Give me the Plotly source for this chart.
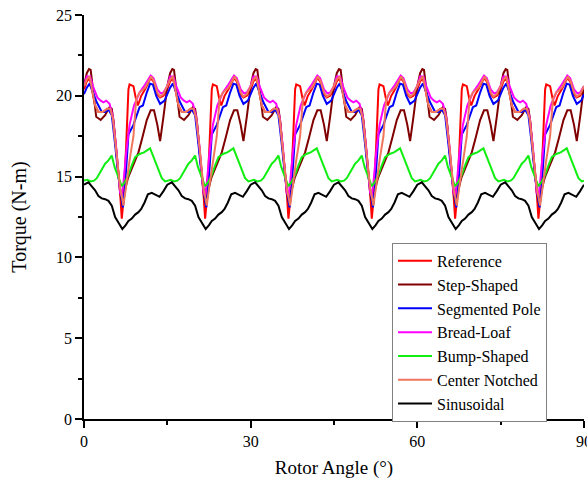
import plotly.graph_objects as go

# ---- Data (one 15-degree cogging period; repeated 6 times over 0-90 deg) ----
PERIOD = 15
N_PERIODS = 6

ref_x = [0.0, 0.5, 1.0, 1.5, 2.0, 2.6, 3.4, 4.2, 4.8, 5.3, 5.9, 6.4, 6.8, 7.1, 7.6, 8.0, 8.2, 8.9, 9.3, 9.7, 10.3, 11.0, 12.0, 12.5, 13.2, 13.7, 14.3]
ref_y = [20.4, 20.9, 21.1, 20.3, 19.4, 19.0, 19.0, 19.2, 19.2, 18.4, 16.5, 14.5, 12.4, 13.5, 17.0, 20.4, 20.7, 20.6, 19.9, 19.4, 20.0, 20.4, 21.1, 20.9, 20.1, 19.9, 20.0]

step_x = [0.0, 0.5, 0.9, 1.2, 1.7, 2.2, 3.0, 3.8, 4.6, 5.0, 5.3, 5.9, 6.5, 7.0, 7.4, 7.9, 8.5, 9.2, 9.8, 10.5, 11.3, 12.0, 12.6, 13.2, 13.7, 14.3]
step_y = [20.6, 21.4, 21.65, 21.6, 20.15, 18.7, 18.5, 18.8, 19.3, 19.2, 18.5, 16.2, 14.0, 13.2, 14.2, 14.9, 15.4, 16.0, 16.5, 17.4, 18.5, 19.1, 19.1, 18.2, 17.2, 18.7]

seg_x = [0.0, 0.5, 1.0, 1.5, 2.3, 3.2, 3.8, 4.4, 5.0, 5.6, 6.2, 7.0, 7.4, 8.0, 8.9, 10.0, 10.6, 11.3, 11.9, 12.4, 13.0, 13.7, 14.5]
seg_y = [20.1, 20.5, 20.75, 20.3, 19.6, 19.0, 19.0, 19.15, 18.8, 17.0, 15.0, 13.1, 14.5, 17.6, 18.2, 19.3, 19.4, 20.2, 20.75, 20.7, 20.0, 19.5, 19.7]

bread_x = [0.0, 0.5, 1.1, 1.6, 2.4, 3.0, 3.5, 4.0, 4.6, 5.2, 5.8, 6.5, 6.8, 7.1, 7.6, 8.2, 9.0, 10.0, 11.0, 12.0, 12.5, 13.2, 13.8, 14.3]
bread_y = [20.6, 21.2, 21.2, 20.6, 19.9, 19.7, 19.6, 19.7, 19.5, 18.7, 16.8, 14.0, 13.8, 14.6, 16.5, 18.2, 19.4, 20.2, 20.7, 21.25, 21.1, 20.4, 20.15, 20.2]

bump_x = [0.0, 0.6, 1.2, 1.8, 2.3, 3.0, 3.8, 4.4, 5.0, 5.5, 6.2, 6.8, 7.4, 8.0, 8.6, 9.2, 10.0, 10.8, 11.9, 12.5, 13.2, 14.0, 14.6]
bump_y = [14.75, 14.8, 14.7, 14.75, 14.9, 15.3, 15.8, 16.0, 16.3, 15.6, 14.9, 14.4, 14.7, 15.1, 15.7, 16.2, 16.4, 16.5, 16.75, 16.2, 15.6, 14.9, 14.7]

notch_x = [0.0, 0.5, 1.0, 1.5, 2.0, 2.6, 3.4, 4.2, 4.7, 5.2, 5.8, 6.5, 7.1, 7.6, 8.2, 8.9, 9.4, 10.0, 11.0, 12.1, 12.6, 13.2, 13.7, 14.3]
notch_y = [20.6, 21.0, 21.2, 20.4, 19.4, 19.0, 19.0, 19.2, 19.2, 18.6, 16.8, 14.3, 13.2, 14.5, 16.0, 17.5, 19.8, 20.2, 20.5, 21.2, 20.9, 20.2, 19.95, 20.1]

sin_x = [0.0, 0.8, 1.4, 2.0, 2.6, 3.2, 3.8, 4.4, 5.0, 5.6, 6.3, 6.9, 7.5, 8.0, 8.6, 9.2, 9.8, 10.3, 10.9, 11.5, 12.2, 12.9, 13.6, 14.3]
sin_y = [14.5, 14.65, 14.4, 14.15, 13.8, 13.65, 13.6, 13.5, 13.2, 12.5, 12.1, 11.75, 12.0, 12.25, 12.4, 12.65, 12.8, 13.0, 13.4, 13.9, 14.0, 13.9, 13.75, 14.1]

series_names = ["Reference", "Step-Shaped", "Segmented Pole", "Bread-Loaf",
                "Bump-Shaped", "Center Notched", "Sinusoidal"]
series_colors = ["#FF0000", "#800000", "#0000FF", "#FF00FF", "#11EE11", "#F0765C", "#000000"]

x_ticks = [0, 30, 60, 90]
y_ticks = [0, 5, 10, 15, 20, 25]


def tile(xs, ys):
    X, Y = [], []
    for k in range(N_PERIODS):
        for x, y in zip(xs, ys):
            X.append(x + k * PERIOD)
            Y.append(y)
    X.append(N_PERIODS * PERIOD)
    Y.append(ys[0])
    return X, Y


data = [(ref_x, ref_y), (step_x, step_y), (seg_x, seg_y), (bread_x, bread_y),
        (bump_x, bump_y), (notch_x, notch_y), (sin_x, sin_y)]

FONT = "Liberation Serif, Times New Roman, serif"

fig = go.Figure()
for (xs, ys), name, color in zip(data, series_names, series_colors):
    X, Y = tile(xs, ys)
    fig.add_trace(go.Scatter(x=X, y=Y, mode="lines", name=name,
                             line=dict(color=color, width=2)))

axis_common = dict(showline=True, linecolor="black", linewidth=1.5,
                   ticks="outside", tickcolor="black", tickwidth=1.5, ticklen=7,
                   showgrid=False, zeroline=False, mirror=False, automargin=False,
                   ticklabeloverflow="allow",
                   tickfont=dict(family=FONT, size=16, color="black"))

fig.update_layout(
    width=587, height=481,
    margin=dict(l=84, r=3, t=15, b=62),
    paper_bgcolor="white", plot_bgcolor="white",
    font=dict(family=FONT, color="black"),
    showlegend=True,
    legend=dict(x=0.616, y=0.436, xanchor="left", yanchor="top",
                bgcolor="white", bordercolor="#808080", borderwidth=1,
                font=dict(family=FONT, size=16, color="black"),
                tracegroupgap=0, itemwidth=34),
    xaxis=dict(range=[0, 90], tickvals=x_ticks, ticktext=[str(v) for v in x_ticks],
               minor=dict(tickvals=[15, 45, 75], ticks="outside", ticklen=4,
                          tickcolor="black", tickwidth=1.5),
               title=dict(text="Rotor Angle (°)", font=dict(family=FONT, size=19),
                          standoff=12),
               **axis_common),
    yaxis=dict(range=[0, 25], tickvals=y_ticks, ticktext=[str(v) for v in y_ticks],
               minor=dict(tickvals=[2.5, 7.5, 12.5, 17.5, 22.5], ticks="outside", ticklen=4,
                          tickcolor="black", tickwidth=1.5),
               title=dict(text="Torque (N-m)", font=dict(family=FONT, size=20),
                          standoff=24),
               **axis_common),
)

fig.write_html("out.html", config={"displayModeBar": False},
               post_script="document.body.style.margin='0';document.body.style.overflow='hidden';")
